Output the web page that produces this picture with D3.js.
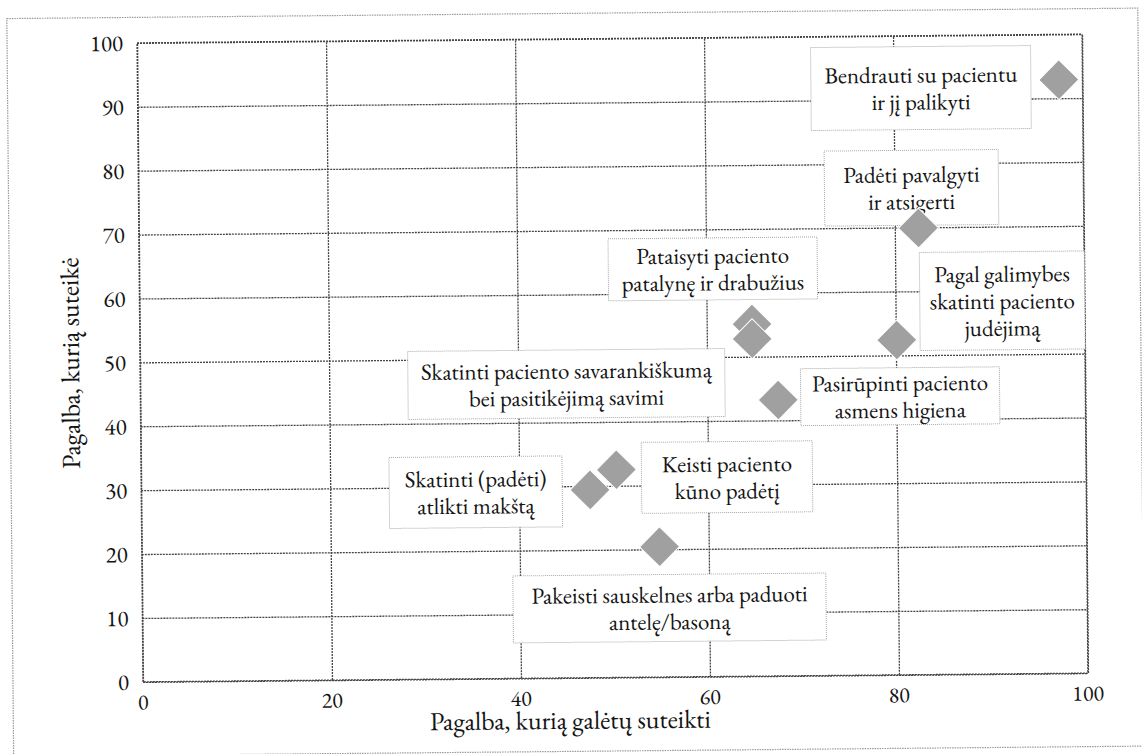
<!DOCTYPE html>
<html>
<head>
<meta charset="utf-8">
<script src="https://cdn.jsdelivr.net/npm/d3@7"></script>
<style>
  body { margin: 0; background: #fff; }
  svg { display: block; }
</style>
</head>
<body>
<div id="chart"></div>
<script>
// tasks (labels), help that could be given (x) and help actually given (y)
let tasks = [
  "Bendrauti su pacientu\nir jį palikyti",
  "Padėti pavalgyti\nir atsigerti",
  "Pataisyti paciento\npatalynę ir drabužius",
  "Skatinti paciento savarankiškumą\nbei pasitikėjimą savimi",
  "Pagal galimybes\nskatinti paciento\njudėjimą",
  "Pasirūpinti paciento\nasmens higiena",
  "Skatinti (padėti)\natlikti makštą",
  "Keisti paciento\nkūno padėtį",
  "Pakeisti sauskelnes arba paduoti\nantelę/basoną"
];
let couldGive = [97.5, 82.5, 64.8, 64.8, 80.1, 67.5, 47.5, 50.3, 54.8];
let didGive = [92.9, 69.9, 55.1, 52.8, 52.4, 43.2, 29.4, 32.5, 20.4];

let xTicks = [0, 20, 40, 60, 80, 100];
let yTicks = [0, 10, 20, 30, 40, 50, 60, 70, 80, 90, 100];
let xTitle = "Pagalba, kurią galėtų suteikti";
let yTitle = "Pagalba, kurią suteikė";

// label box layout: centre in data units, size in px
let labelX = [82.9, 81.8, 60.7, 45.1, 91.3, 80.4, 35.4, 62.0, 55.8];
let labelY = [91.8, 76.2, 63.8, 46.0, 58.4, 43.6, 29.2, 31.2, 10.8];
let boxW = [220, 174, 209, 317, 165, 199, 173, 171, 313];
let boxH = [83, 75, 62, 68, 98, 57, 71, 71, 67];

let W = 1142, H = 754;
let plotL = 140, plotR = 1085, plotT = 38.5, plotB = 677.5;
let lineH = 27;
let font = "'EB Garamond', 'Liberation Serif', serif";

let x = d3.scaleLinear().domain([0, 100]).range([plotL, plotR]);
let y = d3.scaleLinear().domain([0, 100]).range([plotB, plotT]);

let svg = d3.select("#chart").append("svg")
  .attr("width", W)
  .attr("height", H);

svg.append("rect").attr("width", W).attr("height", H).attr("fill", "#fff");

// the scanned page is slightly tilted
let g = svg.append("g")
  .attr("font-family", font)
  .attr("fill", "#141414")
  .attr("transform", "rotate(-0.53," + ((plotL + plotR) / 2) + "," + ((plotT + plotB) / 2) + ")");

//outer frame
g.append("rect")
  .attr("x", 10).attr("y", 13)
  .attr("width", 1131).attr("height", 738)
  .attr("fill", "none")
  .attr("stroke", "#9a9a9a")
  .attr("stroke-width", 1.2)
  .attr("stroke-dasharray", "1.5,1");

//grid lines
let gridStyle = function(sel){
  sel.select(".domain").remove();
  sel.selectAll(".tick line")
    .attr("stroke", "#454545")
    .attr("stroke-width", 1.3)
    .attr("stroke-dasharray", "2,1");
  sel.selectAll(".tick text").remove();
};
g.append("g")
  .attr("transform", "translate(" + plotL + ",0)")
  .call(d3.axisLeft(y).tickValues(yTicks).tickSize(-(plotR - plotL)))
  .call(gridStyle);
g.append("g")
  .attr("transform", "translate(0," + plotB + ")")
  .call(d3.axisBottom(x).tickValues(xTicks).tickSize(-(plotB - plotT)))
  .call(gridStyle);

g.append("rect")
  .attr("x", plotL).attr("y", plotT)
  .attr("width", plotR - plotL).attr("height", plotB - plotT)
  .attr("fill", "none")
  .attr("stroke", "#454545")
  .attr("stroke-width", 1.3)
  .attr("stroke-dasharray", "2,1");

//tick labels
g.selectAll("text.ytick")
  .data(yTicks)
  .enter().append("text")
  .attr("class", "ytick")
  .attr("x", plotL - 14)
  .attr("y", function(d){ return y(d); })
  .attr("text-anchor", "end")
  .attr("dominant-baseline", "central")
  .attr("font-family", font)
  .attr("font-size", "23px")
  .text(function(d){ return d; });

g.selectAll("text.xtick")
  .data(xTicks)
  .enter().append("text")
  .attr("class", "xtick")
  .attr("x", function(d){ return x(d); })
  .attr("y", plotB + 20)
  .attr("text-anchor", "middle")
  .attr("dominant-baseline", "central")
  .attr("font-family", font)
  .attr("font-size", "22px")
  .text(function(d){ return d; });

//axis titles
g.append("text")
  .attr("x", 567)
  .attr("y", plotB + 42)
  .attr("text-anchor", "middle")
  .attr("dominant-baseline", "central")
  .attr("font-family", font)
  .attr("font-size", "26px")
  .text(xTitle);

g.append("text")
  .attr("transform", "translate(70," + ((plotT + plotB) / 2) + ") rotate(-90)")
  .attr("text-anchor", "middle")
  .attr("dominant-baseline", "central")
  .attr("font-family", font)
  .attr("font-size", "26px")
  .text(yTitle);

//label boxes
let labels = g.selectAll("g.label")
  .data(tasks)
  .enter().append("g")
  .attr("class", "label")
  .attr("transform", function(d, i){
    return "translate(" + x(labelX[i]) + "," + y(labelY[i]) + ")";
  });

labels.append("rect")
  .attr("x", function(d, i){ return -boxW[i] / 2; })
  .attr("y", function(d, i){ return -boxH[i] / 2; })
  .attr("width", function(d, i){ return boxW[i]; })
  .attr("height", function(d, i){ return boxH[i]; })
  .attr("fill", "#fff")
  .attr("stroke", "#a8a8a8")
  .attr("stroke-width", 1)
  .attr("stroke-dasharray", "1,1");

labels.each(function(d){
  let lines = d.split("\n");
  d3.select(this).selectAll("text")
    .data(lines)
    .enter().append("text")
    .attr("x", 0)
    .attr("y", function(l, j){ return (j - (lines.length - 1) / 2) * lineH; })
    .attr("text-anchor", "middle")
    .attr("dominant-baseline", "central")
    .attr("font-family", font)
    .attr("font-size", "23px")
    .text(function(l){ return l; });
});

//diamonds
let diamond = d3.symbol().type(d3.symbolSquare).size(800);
g.selectAll("path.point")
  .data(tasks)
  .enter().append("path")
  .attr("class", "point")
  .attr("d", diamond)
  .attr("transform", function(d, i){
    return "translate(" + x(couldGive[i]) + "," + y(didGive[i]) + ") rotate(45)";
  })
  .attr("fill", "#a0a0a0")
  .attr("stroke", "#fff")
  .attr("stroke-width", 1);
</script>
</body>
</html>
